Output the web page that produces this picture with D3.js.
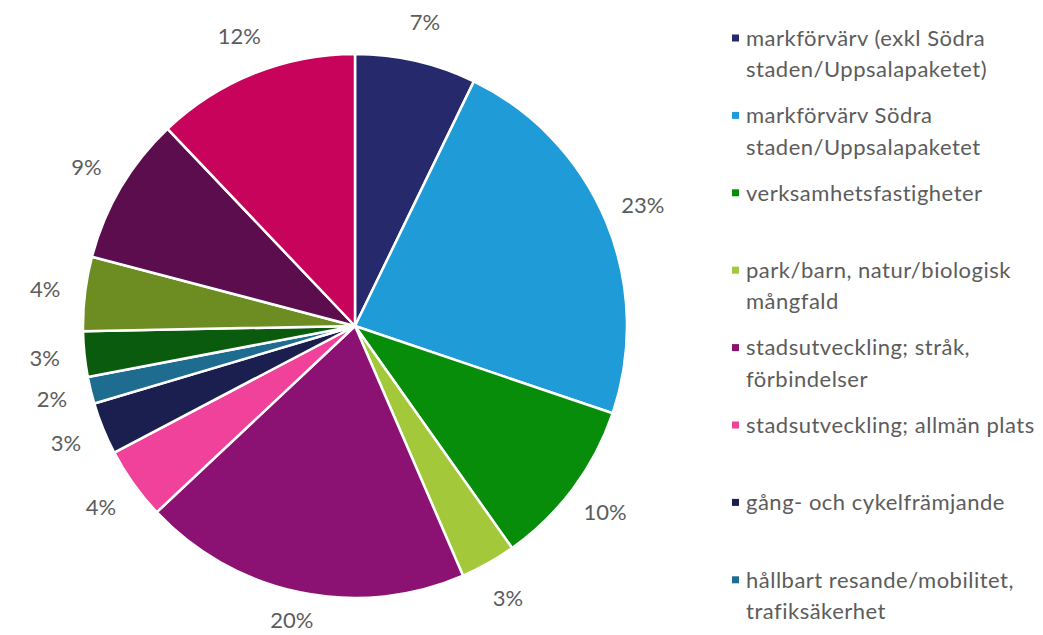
<!DOCTYPE html>
<html>
<head>
<meta charset="utf-8">
<script src="https://cdn.jsdelivr.net/npm/d3@7"></script>
<style>
  body { margin: 0; background: #fff; }
  text { font-family: Lato, "Open Sans", sans-serif; fill: #5c5c5c; }
</style>
</head>
<body>
<div id="chart"></div>
<script>
// slice shares, clockwise from 12 o'clock
var shares = [7.2, 23.0, 10.0, 3.3, 19.5, 4.3, 3.1, 1.6, 2.7, 4.4, 8.8, 12.1];
var sliceColors = ["#262a6c", "#1f9bd7", "#078d0a", "#a3c93b", "#8b1173", "#f0419b",
                   "#1b1f4f", "#1e6c8f", "#0a5b0d", "#6d8d23", "#5b0d4d", "#c7035b"];
// legend (only the first eight entries are shown)
var legendLabels = [
  ["markförvärv (exkl Södra", "staden/Uppsalapaketet)"],
  ["markförvärv Södra", "staden/Uppsalapaketet"],
  ["verksamhetsfastigheter"],
  ["park/barn, natur/biologisk", "mångfald"],
  ["stadsutveckling; stråk,", "förbindelser"],
  ["stadsutveckling; allmän plats"],
  ["gång- och cykelfrämjande"],
  ["hållbart resande/mobilitet,", "trafiksäkerhet"]
];

var w = 1043, h = 635,
    cx = 355, cy = 326,
    r = 272;

var svg = d3.select("#chart")
  .append("svg")
  .attr("width", w)
  .attr("height", h);

var pie = d3.pie()
  .sort(null)
  .value(function(d){ return d; });

var arcs = pie(shares);

var arc = d3.arc()
  .innerRadius(0)
  .outerRadius(r);

var labelArc = d3.arc()
  .innerRadius(312)
  .outerRadius(312);

var g = svg.append("g")
  .attr("transform", "translate(" + cx + "," + cy + ")");

g.selectAll("path")
  .data(arcs)
  .enter()
  .append("path")
  .attr("d", arc)
  .attr("fill", function(d, i){ return sliceColors[i]; })
  .attr("stroke", "#fff")
  .attr("stroke-width", 2.5)
  .attr("stroke-linejoin", "round");

g.selectAll("text.pct")
  .data(arcs)
  .enter()
  .append("text")
  .attr("class", "pct")
  .attr("transform", function(d){
    var c = labelArc.centroid(d);
    // keep labels inside the picture
    c[1] = Math.min(c[1], h - cy - 15);
    return "translate(" + c + ")";
  })
  .attr("text-anchor", "middle")
  .attr("dy", "0.35em")
  .style("font-size", "22px")
  .text(function(d){ return Math.round(d.data) + "%"; });

// legend
var legend = svg.append("g")
  .attr("transform", "translate(732,38)");

var item = legend.selectAll("g")
  .data(legendLabels)
  .enter()
  .append("g")
  .attr("transform", function(d, i){ return "translate(0," + (i * 77.4) + ")"; });

item.append("rect")
  .attr("x", 0)
  .attr("y", -3.5)
  .attr("width", 7)
  .attr("height", 7)
  .attr("fill", function(d, i){ return sliceColors[i]; });

item.selectAll("text")
  .data(function(d){ return d; })
  .enter()
  .append("text")
  .attr("x", 14)
  .attr("y", function(d, j){ return j * 31.5; })
  .attr("dy", "0.35em")
  .style("font-size", "22px")
  .style("letter-spacing", "0.5px")
  .text(function(d){ return d; });
</script>
</body>
</html>
